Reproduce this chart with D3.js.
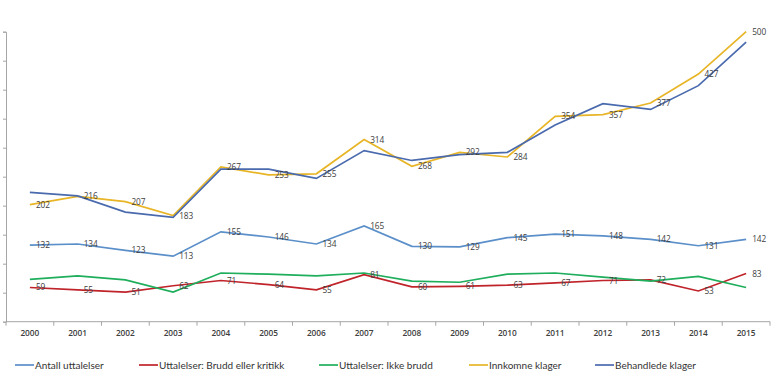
<!DOCTYPE html>
<html>
<head>
    <script src="https://d3js.org/d3.v7.min.js"></script>
    <style>
        body { margin: 0; background: #fff; }
        .dlabel { font-family: "Open Sans", sans-serif; font-size: 8.3px; fill: #404040; }
        .xlab { font-family: "Open Sans", sans-serif; font-size: 8.3px; font-weight: 600; fill: #404040; }
        .legend text { font-family: Lato, sans-serif; font-size: 10px; fill: #333; }
    </style>
</head>
<body>
<div id="chart"></div>
<script>
const years = ["2000","2001","2002","2003","2004","2005","2006","2007","2008","2009","2010","2011","2012","2013","2014","2015"];
const antall = [132,134,123,113,155,146,134,165,130,129,145,151,148,142,131,142];
const brudd = [59,55,51,62,71,64,55,81,60,61,63,67,71,72,53,83];
const ikkeBrudd = [73,79,72,51,84,82,79,84,70,68,82,84,77,70,78,59];
const innkomne = [202,216,207,183,267,253,255,314,268,292,284,354,357,377,427,500];
const behandlede = [223,217,189,180,263,263,247,295,278,288,292,339,376,366,407,482];
const yTicks = d3.range(0, 501, 50);

const series = [
    {name: "Antall uttalelser", values: antall, color: "#5b8fc9", labels: true},
    {name: "Uttalelser: Brudd eller kritikk", values: brudd, color: "#c0242b", labels: true},
    {name: "Uttalelser: Ikke brudd", values: ikkeBrudd, color: "#1fae5c", labels: false},
    {name: "Innkomne klager", values: innkomne, color: "#e8b526", labels: true},
    {name: "Behandlede klager", values: behandlede, color: "#4a6aae", labels: false}
];

const W = 775, H = 381;
const svg = d3.select("#chart").append("svg").attr("width", W).attr("height", H);

const x = d3.scaleBand().domain(years).range([6, 770]);
const y = d3.scaleLinear().domain([0, 500]).range([321.7, 31.7]);
const cx = d => x(d) + x.bandwidth() / 2;

// y axis, ticks only
const yAxis = svg.append("g")
    .attr("transform", "translate(6,0)")
    .call(d3.axisLeft(y).tickValues(yTicks).tickSize(3).tickFormat(""));
yAxis.select(".domain").attr("stroke", "#a6a6a6");
yAxis.selectAll("line").attr("stroke", "#a6a6a6");

// x axis with ticks between categories
const xg = svg.append("g").attr("transform", "translate(0,321.7)");
xg.append("line").attr("x1", 6).attr("x2", 770).attr("stroke", "#a6a6a6");
xg.selectAll(".tk").data(years.concat(["end"])).enter().append("line")
    .attr("x1", (d, i) => i < years.length ? x(d) : 770)
    .attr("x2", (d, i) => i < years.length ? x(d) : 770)
    .attr("y1", 0).attr("y2", 4).attr("stroke", "#a6a6a6");
xg.selectAll(".xlab").data(years).enter().append("text")
    .attr("class", "xlab")
    .attr("x", d => cx(d))
    .attr("y", 14.5)
    .attr("text-anchor", "middle")
    .text(d => d);

const line = d3.line().x((d, i) => cx(years[i])).y(d => y(d));

series.forEach(s => {
    svg.append("path")
        .datum(s.values)
        .attr("fill", "none")
        .attr("stroke", s.color)
        .attr("stroke-width", 1.7)
        .attr("d", line);
});

series.filter(s => s.labels).forEach(s => {
    svg.selectAll(null).data(s.values).enter().append("text")
        .attr("class", "dlabel")
        .attr("x", (d, i) => cx(years[i]) + 6)
        .attr("y", d => y(d) + 3)
        .text(d => d);
});

// legend
const legX = [15, 139, 319, 469, 595];
const leg = svg.append("g").attr("class", "legend");
series.forEach((s, i) => {
    const g = leg.append("g").attr("transform", `translate(${legX[i]},365)`);
    g.append("line").attr("x1", 0).attr("x2", 19).attr("stroke", s.color).attr("stroke-width", 1.7);
    g.append("text").attr("x", 20).attr("y", 3.5).text(s.name);
});
</script>
</body>
</html>
